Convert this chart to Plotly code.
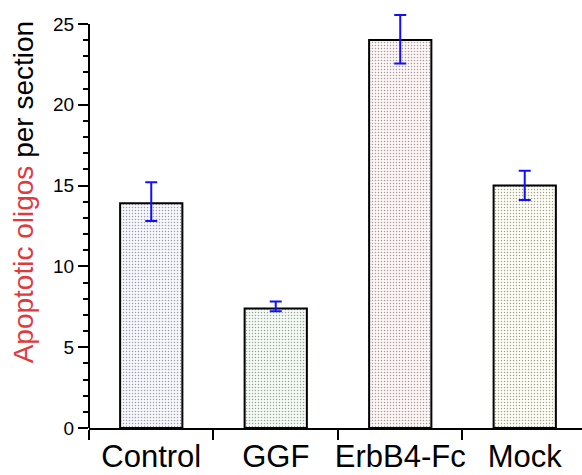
import plotly.graph_objects as go

categories = ["Control", "GGF", "ErbB4-Fc", "Mock"]
values = [13.9, 7.4, 24.0, 15.0]
err_plus = [1.3, 0.42, 1.55, 0.92]
err_minus = [1.1, 0.18, 1.45, 0.9]
fill_bg = ["#f7f7ff", "#f5fcf5", "#fff6f6", "#fffff5"]
fill_fg = ["#e8e8ff", "#e4f6e4", "#ffe6e6", "#f6f6e0"]
y_ticks = [0, 5, 10, 15, 20, 25]

fig = go.Figure()
fig.add_trace(go.Bar(
    x=categories, y=values, width=0.5, cliponaxis=False,
    marker=dict(color=fill_bg, line=dict(color="black", width=2),
                pattern=dict(shape=".", fgcolor=fill_fg, bgcolor=fill_bg, size=3, solidity=0.2)),
    error_y=dict(type="data", symmetric=False, array=err_plus, arrayminus=err_minus,
                 color="#1010ff", thickness=2, width=6),
    showlegend=False,
))

font_family = "Arial, Liberation Sans, sans-serif"
fig.update_layout(
    width=582, height=475,
    margin=dict(l=89, r=0, t=11, b=47, autoexpand=False),
    paper_bgcolor="white", plot_bgcolor="white",
    font=dict(family=font_family, color="black"),
    xaxis=dict(type="category", range=[-0.5, 3.46], showline=True, linecolor="black", linewidth=2,
               ticks="outside", tickson="boundaries", ticklen=10, tickwidth=2, tickcolor="black",
               tickangle=0, automargin=False,
               tickfont=dict(size=31, family=font_family), showgrid=False, zeroline=False),
    yaxis=dict(range=[0, 25.8], showline=False, automargin=False,
               ticks="outside", ticklen=10, tickwidth=2, tickcolor="black",
               tickvals=y_ticks, tickfont=dict(size=19, family=font_family),
               minor=dict(dtick=1, ticks="outside", ticklen=5, tickwidth=1.5, tickcolor="black", showgrid=False),
               showgrid=False, zeroline=False),
    shapes=[dict(type="line", xref="paper", yref="y", x0=0, x1=0, y0=0, y1=max(y_ticks),
                 line=dict(color="black", width=2))],
    annotations=[dict(
        text="<span style='color:#e03a3e'>Apoptotic oligos</span> per section",
        textangle=-90, xref="paper", yref="paper", x=-0.134, y=0.565,
        xanchor="center", yanchor="middle", showarrow=False,
        font=dict(size=28, family=font_family, color="black"),
    )],
)

fig.write_html("out.html")
